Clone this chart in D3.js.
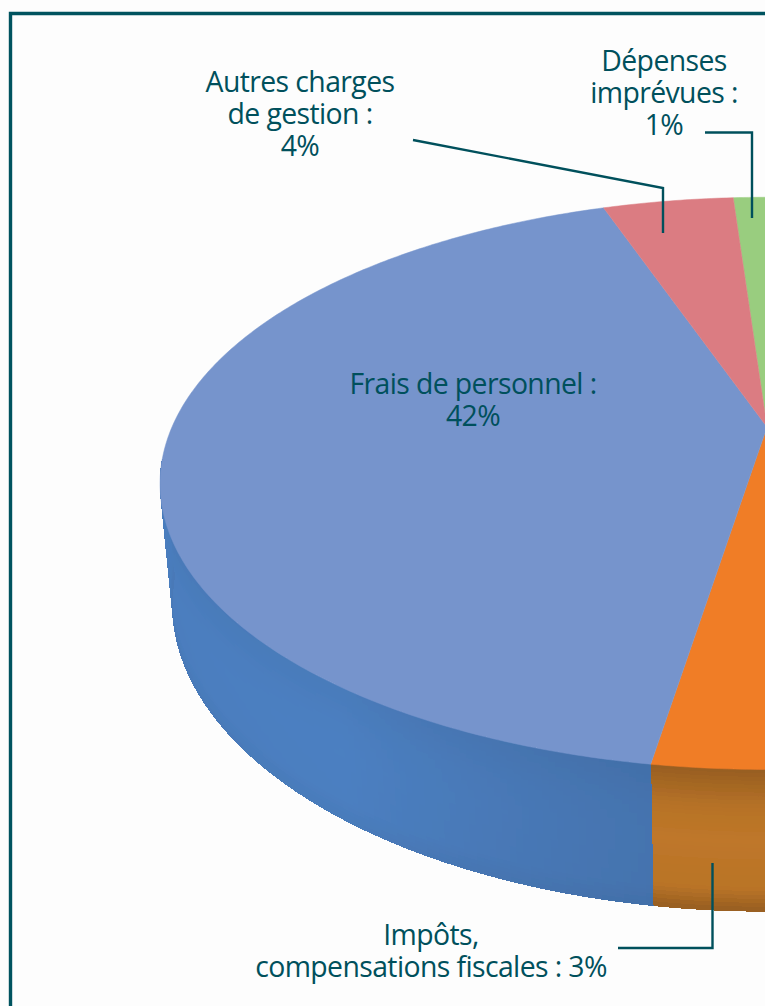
<!DOCTYPE html>
<html>
<head>
<meta charset="utf-8">
<script src="https://cdn.jsdelivr.net/npm/d3@7"></script>
<style>
html, body { margin: 0; padding: 0; background: #fdfdfd; overflow: hidden; }
svg { display: block; }
text { font-family: "Open Sans", sans-serif; font-size: 28.4px; fill: #00505c; text-anchor: middle; letter-spacing: -0.6px; }
</style>
</head>
<body>
<svg id="chart" width="765" height="1006"></svg>
<script>
// slices clockwise, starting at the green one near the top
var categories = ["Dépenses imprévues", "Reste (hors cadre)", "Impôts, compensations fiscales", "Frais de personnel", "Autres charges de gestion"];
var shares = [1.1, 49.5, 3, 42.2, 4.2];
var topColors = ["#99cd7f", "#f07d28", "#f07d28", "#7694cc", "#db7c82"];
var wallColors = ["#7aa860", "#bf7729", "#bf7729", "#4a7cbc", "#b0646a"];
var wallEdgeShade = [0.3, 0.7, 0.7, 0.12, 0.3];

var labelLines = [
    { lines: ["Autres charges", "de gestion :", "4%"], x: 300, y: 92 },
    { lines: ["Dépenses", "imprévues :", "1%"], x: 664, y: 71 },
    { lines: ["Frais de personnel :", "42%"], x: 473, y: 394 },
    { lines: ["Impôts,", "compensations fiscales : 3%"], x: 431, y: 945 }
];

var leaders = [
    [[413, 140], [663, 188], [663, 233]],
    [[705, 132.5], [752, 132.5], [752, 218]],
    [[618, 948], [712.5, 948], [712.5, 863]]
];

var svg = d3.select("#chart");

var defs = svg.append("defs");
defs.append("filter").attr("id", "soft")
    .attr("x", "-5%").attr("y", "-5%").attr("width", "110%").attr("height", "110%")
    .append("feGaussianBlur").attr("stdDeviation", 0.7);

// disc seen in perspective: k makes the near half bigger than the far half
var persp = { cx: 767, k: -0.197 };
var topPlane = { cy: 427, a: 275, b: 595 };
var bottomPlane = { cy: 542.6, a: 296, b: 583 };

function project(angle, lower) {
    var u = Math.sin(angle), v = -Math.cos(angle);
    var w = 1 + persp.k * v;
    var plane = lower ? bottomPlane : topPlane;
    return [persp.cx + plane.b * u / w, plane.cy + plane.a * v / w];
}

function wallPoint(angle, t) {
    var p = project(angle, false), q = project(angle, true);
    return [p[0] + (q[0] - p[0]) * t, p[1] + (q[1] - p[1]) * t];
}

var rad = Math.PI / 180;
var startAt = -3.9 * rad;
var pie = d3.pie().sort(null).startAngle(startAt).endAngle(startAt + 2 * Math.PI);
var arcs = pie(shares);

var line = d3.line();
var step = 0.6 * rad;

// walls first, the top face covers whatever lies behind it
var rowCount = 36;
var rows = d3.range(rowCount).map(function(i) { return i / rowCount; });
var edgeFade = d3.scaleLinear().domain([0, 0.28, 0.5, 0.85, 1]).range([1, 0.2, 0, 0.15, 1]).clamp(true);
var sideLight = d3.scaleLinear().domain([189 * rad, 217 * rad, 262 * rad]).range([-0.2, 0.08, 0.02]).clamp(true);

var walls = svg.append("g").attr("filter", "url(#soft)");
arcs.forEach(function(d, i) {
    d3.range(d.startAngle, d.endAngle, step).forEach(function(a) {
        if (Math.cos(a) > -0.12) return;
        var a2 = Math.min(a + step, d.endAngle);
        var base = d3.color(wallColors[i]).brighter(i == 3 ? sideLight(a) : 0);
        rows.forEach(function(t) {
            var t2 = t + 1 / rowCount;
            var c = d3.interpolateRgb(base, base.darker(1))(edgeFade(t + 0.5 / rowCount) * wallEdgeShade[i]);
            walls.append("path")
                .attr("d", line([wallPoint(a, t), wallPoint(a2, t), wallPoint(a2, t2), wallPoint(a, t2)]) + "Z")
                .attr("fill", c)
                .attr("stroke", c)
                .attr("stroke-width", 1)
                .attr("shape-rendering", "crispEdges");
        });
    });
});

// top face
var face = svg.append("g").attr("filter", "url(#soft)");
arcs.forEach(function(d, i) {
    var pts = [[persp.cx, topPlane.cy]];
    d3.range(d.startAngle, d.endAngle, step).forEach(function(a) { pts.push(project(a, false)); });
    pts.push(project(d.endAngle, false));
    face.append("path")
        .attr("d", line(pts) + "Z")
        .attr("fill", topColors[i])
        .attr("stroke", topColors[i])
        .attr("stroke-width", 0.5);
});

// leader lines
leaders.forEach(function(l) {
    svg.append("path")
        .attr("d", line(l))
        .attr("fill", "none")
        .attr("stroke", "#00505c")
        .attr("stroke-width", 2.4);
});

// labels
labelLines.forEach(function(l) {
    var t = svg.append("text").attr("y", l.y);
    l.lines.forEach(function(s, i) {
        t.append("tspan").attr("x", l.x).attr("y", l.y + i * 32).text(s);
    });
});

// frame, cut by the right and bottom edges of the page
svg.append("path")
    .attr("d", "M10.5,1006V13.5H765")
    .attr("fill", "none")
    .attr("stroke", "#00535f")
    .attr("stroke-width", 3.4);
</script>
</body>
</html>
